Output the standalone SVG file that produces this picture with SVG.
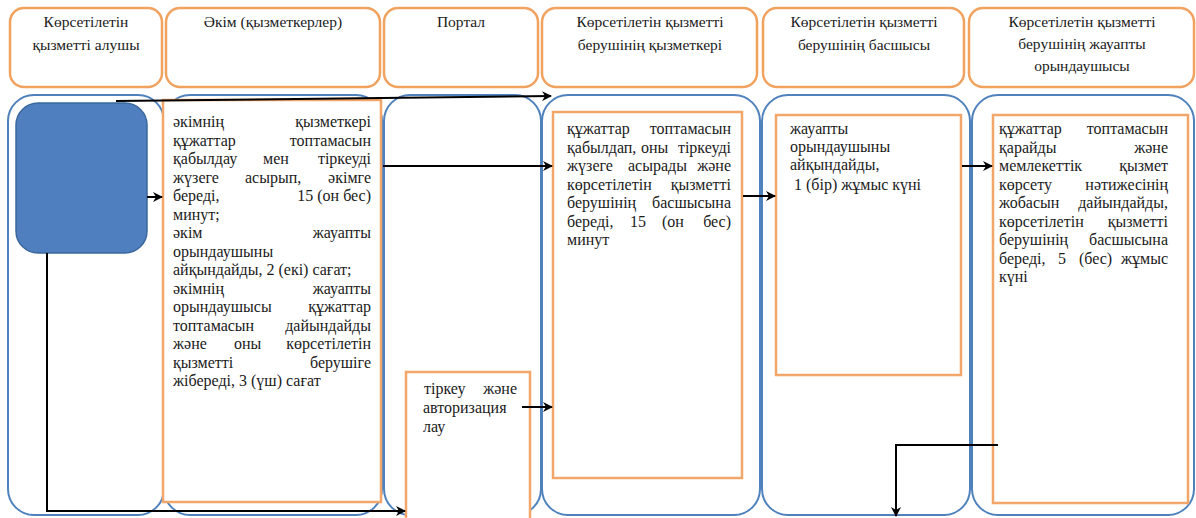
<svg xmlns="http://www.w3.org/2000/svg" width="1196" height="518" viewBox="0 0 1196 518">
<defs>
<marker id="ah" viewBox="0 0 10 10" refX="9" refY="5" markerWidth="5" markerHeight="5" orient="auto" markerUnits="strokeWidth">
<path d="M0,0 L10,5 L0,10 L3,5 Z" fill="#000"/>
</marker>
<style>
.hdr{fill:#fff;stroke:#f0a25e;stroke-width:2.5}
.lane{fill:#fff;stroke:#4f81bd;stroke-width:2}
.box{fill:#fff;stroke:#f2a66a;stroke-width:2.5}
text{font-family:"Liberation Serif","Times New Roman",serif;font-size:16px;fill:#1a1a1a}
.h{text-anchor:middle;font-size:15.5px}
.e{text-anchor:end}
.m{text-anchor:middle}
.conn{fill:none;stroke:#000;stroke-width:2}
</style>
</defs>
<rect width="1196" height="518" fill="#fff"/>

<g id="headers">
<g id="h1"><rect class="hdr" x="10" y="8" width="152" height="79" rx="14"/>
<text class="h" x="86" y="27">Көрсетілетін</text><text class="h" x="86" y="50">қызметті алушы</text></g>
<g id="h2"><rect class="hdr" x="166" y="8" width="214" height="79" rx="14"/>
<text class="h" x="273" y="27">Әкім (қызметкерлер)</text></g>
<g id="h3"><rect class="hdr" x="384" y="8" width="154" height="79" rx="14"/>
<text class="h" x="461" y="27">Портал</text></g>
<g id="h4"><rect class="hdr" x="542" y="8" width="215" height="79" rx="14"/>
<text class="h" x="650" y="27">Көрсетілетін қызметті</text><text class="h" x="650" y="50">берушінің қызметкері</text></g>
<g id="h5"><rect class="hdr" x="763" y="8" width="201" height="79" rx="14"/>
<text class="h" x="864" y="27">Көрсетілетін қызметті</text><text class="h" x="864" y="50">берушінің басшысы</text></g>
<g id="h6"><rect class="hdr" x="969" y="8" width="225" height="79" rx="14"/>
<text class="h" x="1082" y="27">Көрсетілетін қызметті</text><text class="h" x="1082" y="49">берушінің жауапты</text><text class="h" x="1082" y="71">орындаушысы</text></g>
</g>

<g id="lanes">
<rect class="lane" x="8" y="95" width="156" height="420" rx="26"/>
<rect class="lane" x="164" y="95" width="218" height="420" rx="26"/>
<rect class="lane" x="384" y="95" width="157" height="420" rx="26"/>
<rect class="lane" x="542" y="95" width="218" height="420" rx="26"/>
<rect class="lane" x="762" y="95" width="208" height="420" rx="26"/>
<rect class="lane" x="972" y="95" width="222" height="420" rx="26"/>
</g>

<g id="n-start">
<rect x="16" y="103" width="131" height="150" rx="22" fill="#4f7fbf" stroke="#3a689f" stroke-width="1.5"/>
</g>

<g id="n-akim">
<rect class="box" x="163" y="100" width="218" height="402"/>
<text x="173" y="127">әкімнің</text><text class="e" x="371" y="127">қызметкері</text>
<text x="173" y="145.5">құжаттар</text><text class="e" x="371" y="145.5">топтамасын</text>
<text x="173" y="164">қабылдау</text><text x="263" y="164">мен</text><text class="e" x="371" y="164">тіркеуді</text>
<text x="173" y="182.5">жүзеге</text><text x="245" y="182.5">асырып,</text><text class="e" x="371" y="182.5">әкімге</text>
<text x="173" y="201">береді,</text><text class="e" x="371" y="201">15 (он бес)</text>
<text x="173" y="219.5">минут;</text>
<text x="173" y="238">әкім</text><text class="e" x="371" y="238">жауапты</text>
<text x="173" y="256.5">орындаушыны</text>
<text x="173" y="275">айқындайды, 2 (екі) сағат;</text>
<text x="173" y="293.5">әкімнің</text><text class="e" x="371" y="293.5">жауапты</text>
<text x="173" y="312">орындаушысы</text><text class="e" x="371" y="312">құжаттар</text>
<text x="173" y="330.5">топтамасын</text><text class="e" x="371" y="330.5">дайындайды</text>
<text x="173" y="349">және</text><text x="234" y="349">оны</text><text class="e" x="371" y="349">көрсетілетін</text>
<text x="173" y="367.5">қызметті</text><text class="e" x="371" y="367.5">берушіге</text>
<text x="173" y="386">жібереді, 3 (үш) сағат</text>
</g>

<g id="n-portal">
<rect class="box" x="406" y="372" width="124" height="150"/>
<text x="424" y="394">тіркеу</text><text class="e" x="517" y="394">және</text>
<text x="423" y="413">авторизация</text>
<text x="423" y="432">лау</text>
</g>

<g id="n-worker">
<rect class="box" x="553" y="112" width="189" height="366"/>
<text x="567" y="134">құжаттар</text><text class="e" x="731" y="134">топтамасын</text>
<text x="567" y="152.5">қабылдап,</text><text x="641" y="152.5">оны</text><text class="e" x="731" y="152.5">тіркеуді</text>
<text x="567" y="171">жүзеге</text><text x="628" y="171">асырады</text><text class="e" x="731" y="171">және</text>
<text x="567" y="189.5">көрсетілетін</text><text class="e" x="731" y="189.5">қызметті</text>
<text x="567" y="208">берушінің</text><text class="e" x="731" y="208">басшысына</text>
<text x="567" y="226.5">береді,</text><text x="630" y="226.5">15</text><text x="662" y="226.5">(он</text><text class="e" x="731" y="226.5">бес)</text>
<text x="567" y="245">минут</text>
</g>

<g id="n-head">
<rect class="box" x="776" y="115" width="185" height="260"/>
<text x="790" y="134">жауапты</text>
<text x="790" y="152">орындаушыны</text>
<text x="790" y="170">айқындайды,</text>
<text x="794" y="190">1 (бір) жұмыс күні</text>
</g>

<g id="n-exec">
<rect class="box" x="993" y="115" width="195" height="388"/>
<text x="999" y="134">құжаттар</text><text class="e" x="1168" y="134">топтамасын</text>
<text x="999" y="152.5">қарайды</text><text class="e" x="1168" y="152.5">және</text>
<text x="999" y="171">мемлекеттік</text><text class="e" x="1168" y="171">қызмет</text>
<text x="999" y="189.5">көрсету</text><text class="e" x="1168" y="189.5">нәтижесінің</text>
<text x="999" y="208">жобасын</text><text class="e" x="1168" y="208">дайындайды,</text>
<text x="999" y="226.5">көрсетілетін</text><text class="e" x="1168" y="226.5">қызметті</text>
<text x="999" y="245">берушінің</text><text class="e" x="1168" y="245">басшысына</text>
<text x="999" y="263.5">береді,</text><text x="1058" y="263.5">5</text><text x="1079" y="263.5">(бес)</text><text class="e" x="1168" y="263.5">жұмыс</text>
<text x="999" y="282">күні</text>
</g>

<g id="connectors">
<path class="conn" d="M116,101 L551,96" marker-end="url(#ah)"/>
<path class="conn" d="M147,197 L162,197" marker-end="url(#ah)"/>
<path class="conn" d="M383,166 L552,166" marker-end="url(#ah)"/>
<path class="conn" d="M522,407 L552,407" marker-end="url(#ah)"/>
<path class="conn" d="M743,196 L775,196" marker-end="url(#ah)"/>
<path class="conn" d="M962,166 L992,166" marker-end="url(#ah)"/>
<path class="conn" d="M47,253 L47,511 L405,511" marker-end="url(#ah)"/>
<path class="conn" d="M998,445 L896,445 L896,516" marker-end="url(#ah)"/>
</g>
</svg>
